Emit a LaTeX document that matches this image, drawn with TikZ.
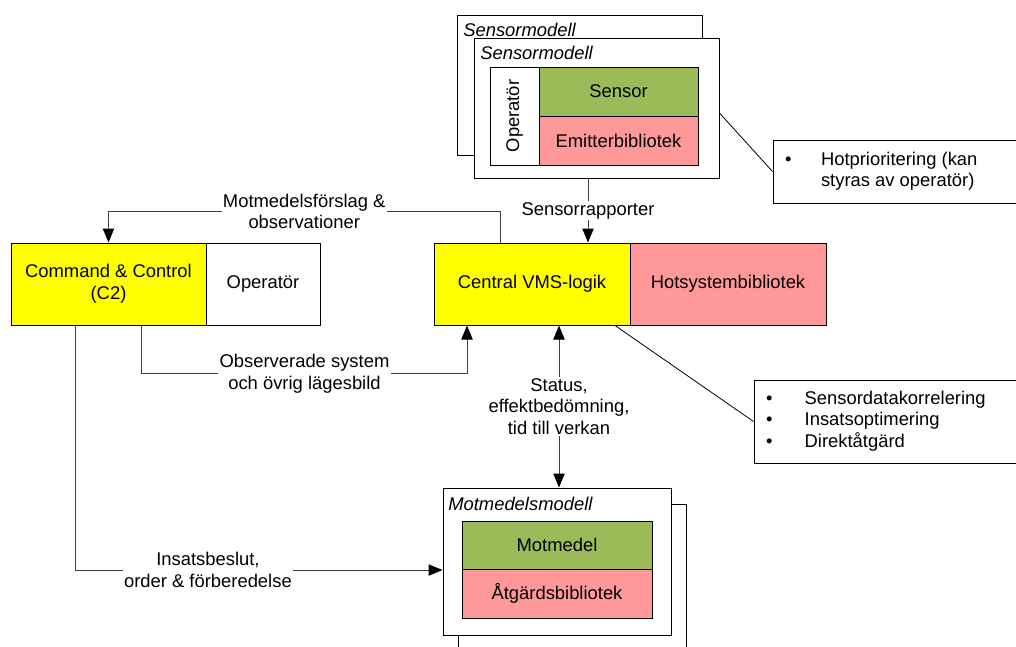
\documentclass[tikz,border=0pt]{standalone}
\usepackage{fontspec}
\setmainfont{Liberation Sans}
\usetikzlibrary{arrows.meta, positioning}

\definecolor{vmsyellow}{HTML}{FFFF00}
\definecolor{vmsgreen}{HTML}{9BBB59}
\definecolor{vmsred}{HTML}{FF9999}

\begin{document}
\begin{tikzpicture}[x=0.75pt, y=-0.75pt,
    every node/.style={font=\fontsize{13.8}{16.2}\selectfont},
    block node/.style={draw, line width=0.75pt, inner sep=2pt, align=center},
    model node/.style={draw, fill=white, line width=0.75pt, minimum width=183.75pt, minimum height=105pt},
    title node/.style={anchor=west, inner sep=0pt, font=\fontsize{13.8}{16.2}\selectfont\itshape},
    info node/.style={draw, fill=white, line width=0.75pt, inner xsep=9pt, inner ysep=2pt},
    label node/.style={fill=white, align=center, inner sep=1pt},
    flow/.style={draw=black!75, line width=0.75pt, -{Triangle[length=10.5pt,width=8.5pt,color=black]}},
    twoway/.style={draw=black!75, line width=0.75pt, {Triangle[length=10.5pt,width=8.5pt,color=black]}-{Triangle[length=10.5pt,width=8.5pt,color=black]}},
    pointer/.style={draw, line width=0.6pt}]
    \useasboundingbox (0,0) rectangle (1016,646);

    \node[model node] (sensback) at (579.5,85) {};
    \node[title node] (sensbacktitle) at (463,30) {Sensormodell};
    \node[model node] (sensfront) at (596.5,108) {};
    \node[title node] (sensfronttitle) at (480,52.5) {Sensormodell};
    \node[block node, rotate=90, minimum width=73.5pt, minimum height=36.75pt] (sensop) at (514.5,116) {Operatör};
    \node[block node, fill=vmsgreen, minimum width=119.25pt, minimum height=36.75pt] (sensor) at (618.5,91.5) {Sensor};
    \node[block node, fill=vmsred, minimum width=119.25pt, minimum height=36.75pt] (emitter) at (618.5,140.5) {Emitterbibliotek};

    \node[info node, minimum width=185.25pt, minimum height=47.25pt] (hotprio) at (896.5,171.5)
        {\begin{tabular}{@{}p{27pt}@{}p{140.25pt}@{}}\textbullet & Hotprioritering (kan\\ & styras av operatör)\end{tabular}};

    \node[block node, fill=vmsyellow, minimum width=146.25pt, minimum height=61.5pt] (c2) at (108.5,284) {Command \& Control\\(C2)};
    \node[block node, minimum width=85.5pt, minimum height=61.5pt] (c2op) at (263,284) {Operatör};
    \node[block node, fill=vmsyellow, minimum width=147pt, minimum height=61.5pt] (central) at (532,284) {Central VMS-logik};
    \node[block node, fill=vmsred, minimum width=147pt, minimum height=61.5pt] (hotsys) at (728,284) {Hotsystembibliotek};

    \node[info node, minimum width=199.5pt, minimum height=62.25pt] (bullets) at (887,421.5)
        {\begin{tabular}{@{}p{29pt}@{}p{152.5pt}@{}}\textbullet & Sensordatakorrelering\\ \textbullet & Insatsoptimering\\ \textbullet & Direktåtgärd\end{tabular}};

    \node[model node, minimum width=171pt, minimum height=110.25pt] (mmback) at (572.5,577.5) {};
    \node[model node, minimum width=171pt, minimum height=110.25pt] (mmfront) at (557,561.5) {};
    \node[title node] (mmtitle) at (448,503.5) {Motmedelsmodell};
    \node[block node, fill=vmsgreen, minimum width=142.5pt, minimum height=36pt] (motmedel) at (557,545) {Motmedel};
    \node[block node, fill=vmsred, minimum width=142.5pt, minimum height=36.75pt] (atgard) at (557,593.5) {Åtgärdsbibliotek};

    \draw[flow] ([xshift=-6.375pt]sensfront.south) -- node[label node] {Sensorrapporter} ([xshift=42pt]central.north);
    \draw[flow] ([xshift=-24pt]central.north) -- ++(0,-31) -| node[pos=0.25, label node] {Motmedelsförslag \&\\observationer} (c2.north);
    \draw[flow] ([xshift=25.1pt]c2.south) -- ++(0,48) -| node[pos=0.25, label node] {Observerade system\\och övrig lägesbild} ([xshift=-48.75pt]central.south);
    \draw[twoway] ([xshift=20.25pt]central.south) -- node[label node] {Status,\\effektbedömning,\\tid till verkan} ([xshift=1.5pt]mmfront.north);
    \draw[flow] ([xshift=-24.4pt]c2.south) |- node[pos=0.68, label node] {Insatsbeslut,\\order \& förberedelse} ([yshift=-6.4pt]mmfront.west);

    \draw[pointer] ([yshift=-3.75pt]sensfront.east) -- (hotprio.west);
    \draw[pointer] ([xshift=62.25pt]central.south) -- (bullets.west);
\end{tikzpicture}
\end{document}
